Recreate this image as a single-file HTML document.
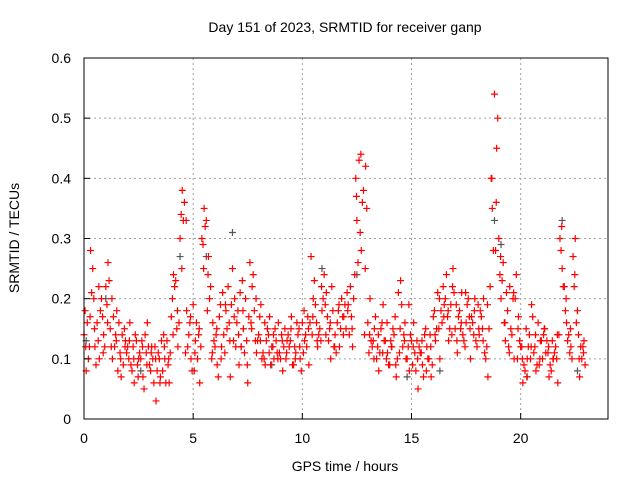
<!DOCTYPE html>
<html><head><meta charset="utf-8"><style>
body{margin:0;background:#fff}
svg text{font-family:"Liberation Sans","DejaVu Sans",sans-serif;font-size:14px;fill:#000}
</style></head><body>
<svg id="chart" width="640" height="480" xmlns="http://www.w3.org/2000/svg">
<rect width="640" height="480" fill="#fff"/>
<g id="grid"></g>
<g id="gray"></g>
<g id="red"></g>
<g id="axes"></g>
<text x="345" y="32" text-anchor="middle">Day 151 of 2023, SRMTID for receiver ganp</text>
<text x="345" y="471" text-anchor="middle">GPS time / hours</text>
<text transform="translate(19,238) rotate(-90)" text-anchor="middle">SRMTID / TECUs</text>
</svg>
<script>
const xTicks=[0,5,10,15,20];
const yTicks=[0,0.1,0.2,0.3,0.4,0.5,0.6];
const yTickLabels=["0","0.1","0.2","0.3","0.4","0.5","0.6"];
const stepHours=0.2;
const startA=0, startB=0.1, startC=0.05, startD=0.15, startE=0.08;
const valuesA=[0.14,0.10,0.25,0.16,0.20,0.22,0.15,0.12,0.16,0.09,0.12,0.08,0.13,0.10,0.14,0.09,0.06,0.11,0.08,0.13,0.17,0.23,0.30,0.36,0.14,0.19,0.10,0.30,0.33,0.22,0.12,0.17,0.14,0.22,0.25,0.16,0.12,0.20,0.26,0.18,0.14,0.11,0.15,0.12,0.13,0.10,0.15,0.12,0.09,0.14,0.16,0.12,0.27,0.19,0.15,0.24,0.13,0.18,0.16,0.20,0.15,0.22,0.24,0.43,0.38,0.16,0.12,0.10,0.15,0.13,0.09,0.14,0.21,0.12,0.10,0.13,0.08,0.11,0.14,0.10,0.17,0.21,0.16,0.24,0.19,0.15,0.18,0.13,0.20,0.16,0.12,0.17,0.10,0.22,0.54,0.30,0.26,0.18,0.14,0.24,0.12,0.08,0.14,0.11,0.16,0.10,0.13,0.08,0.12,0.30,0.22,0.14,0.27,0.18,0.10];
const valuesB=[0.08,0.28,0.12,0.10,0.14,0.26,0.10,0.18,0.07,0.13,0.16,0.06,0.10,0.07,0.16,0.12,0.03,0.07,0.10,0.06,0.24,0.12,0.38,0.18,0.10,0.13,0.06,0.35,0.27,0.16,0.09,0.12,0.18,0.07,0.20,0.09,0.15,0.06,0.22,0.11,0.19,0.09,0.17,0.10,0.16,0.08,0.13,0.17,0.11,0.10,0.13,0.09,0.20,0.12,0.18,0.21,0.10,0.14,0.12,0.17,0.19,0.12,0.33,0.28,0.42,0.20,0.15,0.08,0.19,0.11,0.12,0.07,0.23,0.16,0.08,0.16,0.05,0.09,0.12,0.07,0.13,0.10,0.19,0.13,0.25,0.11,0.21,0.16,0.10,0.20,0.14,0.20,0.07,0.35,0.45,0.20,0.13,0.22,0.10,0.17,0.06,0.10,0.19,0.08,0.13,0.15,0.07,0.10,0.06,0.25,0.16,0.12,0.30,0.07,0.13];
const valuesC=[0.18,0.12,0.20,0.13,0.17,0.19,0.12,0.14,0.11,0.15,0.10,0.12,0.09,0.13,0.11,0.08,0.12,0.10,0.14,0.09,0.20,0.15,0.34,0.11,0.16,0.08,0.14,0.29,0.18,0.10,0.14,0.19,0.11,0.16,0.13,0.18,0.23,0.13,0.16,0.13,0.17,0.10,0.14,0.12,0.11,0.14,0.10,0.13,0.12,0.15,0.11,0.17,0.14,0.16,0.13,0.19,0.15,0.12,0.18,0.17,0.21,0.17,0.40,0.31,0.14,0.11,0.13,0.12,0.16,0.10,0.13,0.17,0.11,0.14,0.12,0.09,0.13,0.11,0.15,0.14,0.18,0.15,0.22,0.17,0.14,0.19,0.15,0.12,0.17,0.14,0.19,0.15,0.12,0.40,0.28,0.24,0.16,0.12,0.20,0.10,0.12,0.15,0.10,0.12,0.09,0.14,0.11,0.13,0.10,0.28,0.18,0.11,0.22,0.14,0.12];
const valuesD=[0.16,0.21,0.09,0.18,0.12,0.23,0.17,0.08,0.14,0.11,0.09,0.14,0.11,0.05,0.12,0.10,0.08,0.13,0.06,0.11,0.22,0.16,0.33,0.12,0.08,0.16,0.12,0.32,0.20,0.13,0.07,0.21,0.15,0.19,0.12,0.21,0.11,0.17,0.24,0.13,0.10,0.13,0.09,0.15,0.11,0.12,0.14,0.09,0.16,0.08,0.14,0.16,0.23,0.14,0.20,0.17,0.22,0.11,0.15,0.19,0.14,0.20,0.26,0.36,0.35,0.13,0.17,0.11,0.13,0.09,0.15,0.10,0.19,0.10,0.14,0.11,0.12,0.07,0.10,0.09,0.15,0.18,0.20,0.15,0.21,0.17,0.14,0.19,0.17,0.13,0.18,0.11,0.15,0.28,0.50,0.23,0.21,0.15,0.20,0.13,0.09,0.12,0.17,0.09,0.13,0.11,0.09,0.11,0.14,0.22,0.13,0.10,0.16,0.12,0.09];
const valuesE=[0.12,0.17,0.15,0.22,0.11,0.16,0.20,0.13,0.10,0.12,0.13,0.10,0.07,0.12,0.09,0.11,0.10,0.06,0.12,0.10,0.14,0.18,0.25,0.33,0.17,0.11,0.15,0.25,0.24,0.11,0.15,0.10,0.19,0.13,0.17,0.14,0.18,0.09,0.15,0.20,0.13,0.16,0.11,0.14,0.10,0.13,0.11,0.15,0.10,0.12,0.18,0.15,0.17,0.13,0.22,0.14,0.16,0.12,0.19,0.14,0.18,0.15,0.37,0.44,0.25,0.14,0.10,0.14,0.11,0.16,0.12,0.09,0.15,0.13,0.19,0.12,0.10,0.13,0.08,0.12,0.14,0.20,0.17,0.18,0.22,0.13,0.16,0.21,0.15,0.18,0.15,0.13,0.19,0.40,0.36,0.27,0.16,0.11,0.21,0.15,0.10,0.07,0.12,0.14,0.10,0.15,0.12,0.10,0.14,0.32,0.20,0.15,0.24,0.10,0.11];
const grayTimes=[0.1,1.0,2.6,4.4,5.6,6.8,7.2,8.6,10.9,12.5,14.8,16.3,18.8,19.1,20.3,21.9,22.6];
const grayValues=[0.13,0.2,0.08,0.27,0.27,0.31,0.12,0.09,0.25,0.24,0.07,0.08,0.33,0.29,0.07,0.33,0.08];

const X0=84,X1=608,Y0=419,Y1=58;
const xs=t=>X0+t*(X1-X0)/24;
const ys=v=>Y0-v*(Y0-Y1)/0.6;
const NS="http://www.w3.org/2000/svg";
function mk(tag,attrs,parent){const e=document.createElementNS(NS,tag);for(const k in attrs)e.setAttribute(k,attrs[k]);parent.appendChild(e);return e;}
const grid=document.getElementById('grid'),axes=document.getElementById('axes');
xTicks.forEach(t=>{
  const x=xs(t);
  if(t>0){const l=mk('line',{x1:x,x2:x,y1:Y1,y2:Y0,stroke:'#a0a0a0','stroke-dasharray':'2,3'},grid);
  
  }
  const tk=mk('line',{x1:x,x2:x,y1:Y0,y2:Y0-6,stroke:'#000'},axes);
  
  
  const tx=mk('text',{x:x,y:443,'text-anchor':'middle'},axes);tx.textContent=t;
  
  
});
yTicks.forEach((v,i)=>{
  const y=ys(v);
  if(v>0&&v<0.6){const l=mk('line',{x1:X0,x2:X1,y1:y,y2:y,stroke:'#a0a0a0','stroke-dasharray':'2,3'},grid);
  
  }
  const tk=mk('line',{x1:X0,x2:X0+6,y1:y,y2:y,stroke:'#000'},axes);
  
  
  const tx=mk('text',{x:71,y:y+5,'text-anchor':'end'},axes);tx.textContent=yTickLabels[i];
  
  
});
const fr=mk('rect',{x:X0,y:Y1,width:X1-X0,height:Y0-Y1,fill:'none',stroke:'#000','stroke-width':1},axes);


function cross(t,v,color,parent){
  const x=xs(t),y=ys(v);
  const p=mk('path',{d:`M${x-3.5} ${y}H${x+3.5}M${x} ${y-3.5}V${y+3.5}`,stroke:color,'stroke-width':1.2,fill:'none'},parent);
  
  
}
const gg=document.getElementById('gray'),rg=document.getElementById('red');
grayTimes.forEach((t,i)=>cross(t,grayValues[i],'#555',gg));
valuesA.forEach((v,i)=>cross(startA+i*stepHours,v,'#f00',rg));
valuesB.forEach((v,i)=>cross(startB+i*stepHours,v,'#f00',rg));
valuesC.forEach((v,i)=>cross(startC+i*stepHours,v,'#f00',rg));
valuesD.forEach((v,i)=>cross(startD+i*stepHours,v,'#f00',rg));
valuesE.forEach((v,i)=>cross(startE+i*stepHours,v,'#f00',rg));
</script>
</body></html>
